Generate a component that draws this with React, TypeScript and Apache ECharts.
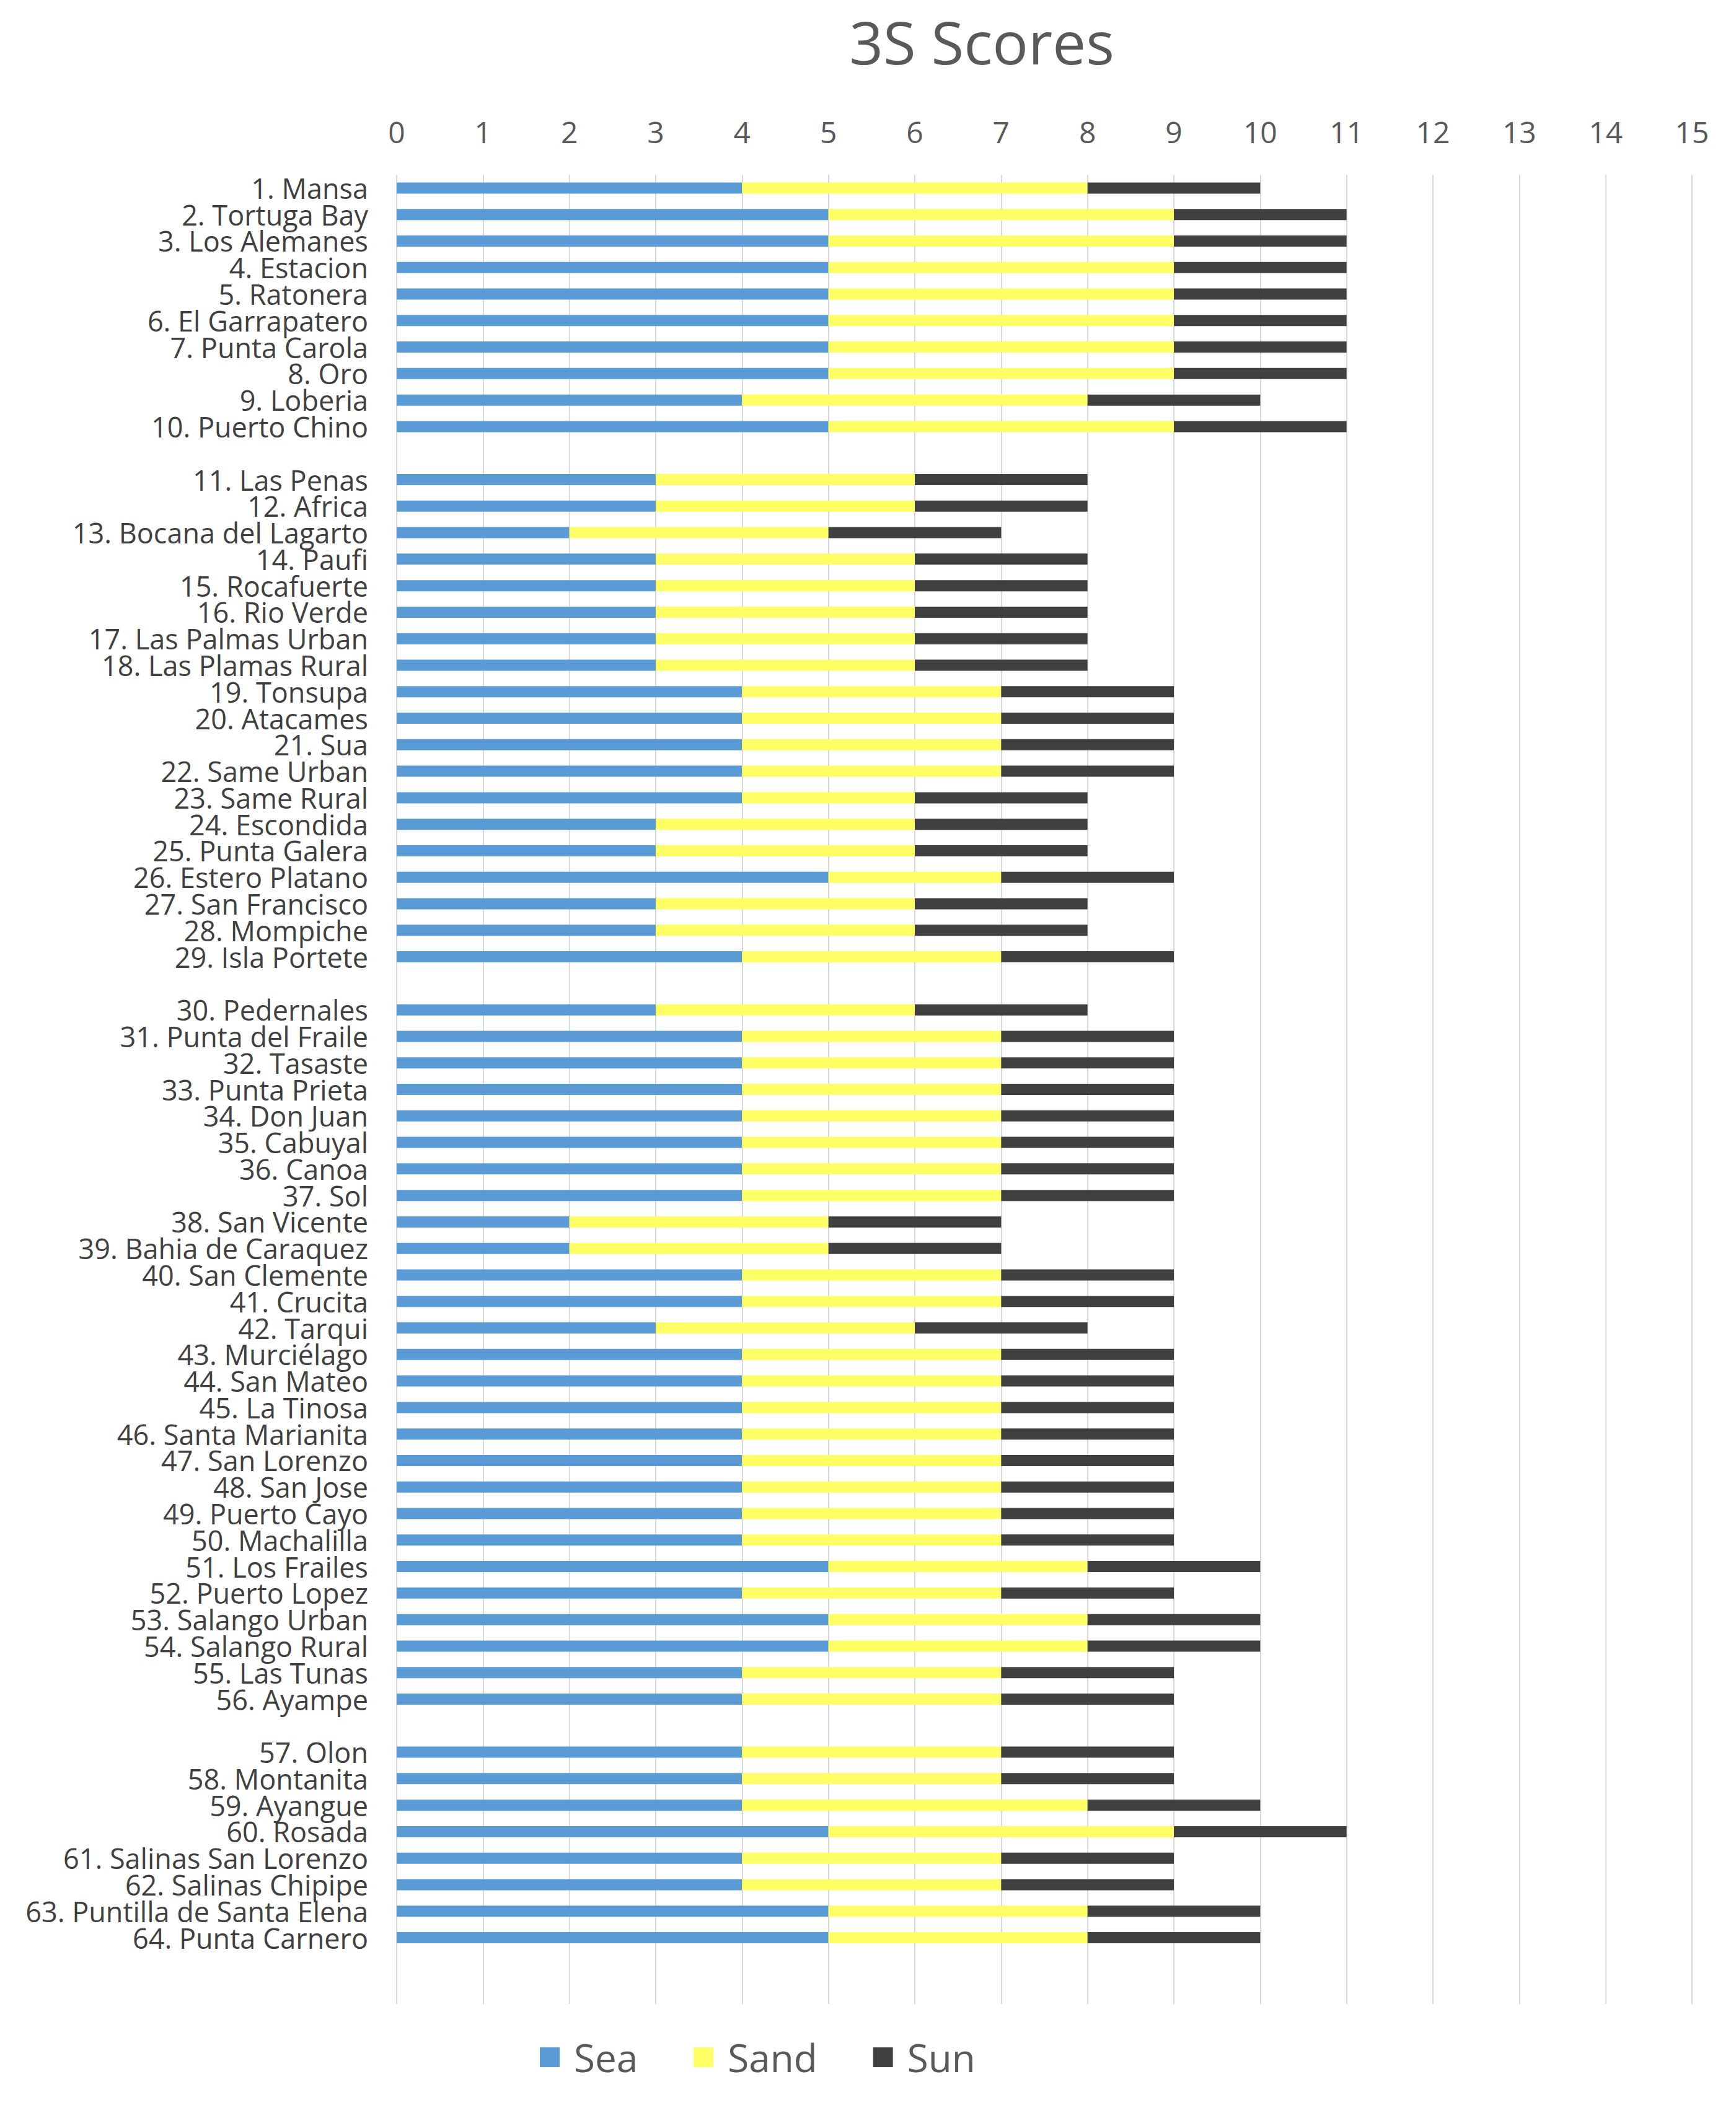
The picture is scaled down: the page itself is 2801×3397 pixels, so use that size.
import React, { useEffect, useRef } from "react";
import * as echarts from "echarts";

const beaches = [
  "1. Mansa", "2. Tortuga Bay", "3. Los Alemanes", "4. Estacion", "5. Ratonera",
  "6. El Garrapatero", "7. Punta Carola", "8. Oro", "9. Loberia", "10. Puerto Chino",
  "11. Las Penas", "12. Africa", "13. Bocana del Lagarto", "14. Paufi", "15. Rocafuerte",
  "16. Rio Verde", "17. Las Palmas Urban", "18. Las Plamas Rural", "19. Tonsupa", "20. Atacames",
  "21. Sua", "22. Same Urban", "23. Same Rural", "24. Escondida", "25. Punta Galera",
  "26. Estero Platano", "27. San Francisco", "28. Mompiche", "29. Isla Portete",
  "30. Pedernales", "31. Punta del Fraile", "32. Tasaste", "33. Punta Prieta", "34. Don Juan",
  "35. Cabuyal", "36. Canoa", "37. Sol", "38. San Vicente", "39. Bahia de Caraquez",
  "40. San Clemente", "41. Crucita", "42. Tarqui", "43. Murciélago", "44. San Mateo",
  "45. La Tinosa", "46. Santa Marianita", "47. San Lorenzo", "48. San Jose", "49. Puerto Cayo",
  "50. Machalilla", "51. Los Frailes", "52. Puerto Lopez", "53. Salango Urban", "54. Salango Rural",
  "55. Las Tunas", "56. Ayampe",
  "57. Olon", "58. Montanita", "59. Ayangue", "60. Rosada", "61. Salinas San Lorenzo",
  "62. Salinas Chipipe", "63. Puntilla de Santa Elena", "64. Punta Carnero",
];

const seaValues = [
  4, 5, 5, 5, 5, 5, 5, 5, 4, 5,
  3, 3, 2, 3, 3, 3, 3, 3, 4, 4, 4, 4, 4, 3, 3, 5, 3, 3, 4,
  3, 4, 4, 4, 4, 4, 4, 4, 2, 2, 4, 4, 3, 4, 4, 4, 4, 4, 4, 4, 4, 5, 4, 5, 5, 4, 4,
  4, 4, 4, 5, 4, 4, 5, 5,
];

const sandValues = [
  4, 4, 4, 4, 4, 4, 4, 4, 4, 4,
  3, 3, 3, 3, 3, 3, 3, 3, 3, 3, 3, 3, 2, 3, 3, 2, 3, 3, 3,
  3, 3, 3, 3, 3, 3, 3, 3, 3, 3, 3, 3, 3, 3, 3, 3, 3, 3, 3, 3, 3, 3, 3, 3, 3, 3, 3,
  3, 3, 4, 4, 3, 3, 3, 3,
];

const sunValues = [
  2, 2, 2, 2, 2, 2, 2, 2, 2, 2,
  2, 2, 2, 2, 2, 2, 2, 2, 2, 2, 2, 2, 2, 2, 2, 2, 2, 2, 2,
  2, 2, 2, 2, 2, 2, 2, 2, 2, 2, 2, 2, 2, 2, 2, 2, 2, 2, 2, 2, 2, 2, 2, 2, 2, 2, 2,
  2, 2, 2, 2, 2, 2, 2, 2,
];

// blank row inserted after these beach numbers (region groups)
const groupEnds = [10, 29, 56];
const trailingBlankRows = 2;

const seriesNames = ["Sea", "Sand", "Sun"];
const xTicks = [0, 15, 1]; // min, max, interval

const FONT = "'Open Sans', 'Noto Sans', 'DejaVu Sans', sans-serif";

function buildRows() {
  const cats: string[] = [];
  const sea: (number | null)[] = [];
  const sand: (number | null)[] = [];
  const sun: (number | null)[] = [];
  beaches.forEach((b, i) => {
    cats.push(b);
    sea.push(seaValues[i]);
    sand.push(sandValues[i]);
    sun.push(sunValues[i]);
    if (groupEnds.includes(i + 1)) {
      cats.push("");
      sea.push(null);
      sand.push(null);
      sun.push(null);
    }
  });
  for (let k = 0; k < trailingBlankRows; k++) {
    cats.push("");
    sea.push(null);
    sand.push(null);
    sun.push(null);
  }
  return { cats, sea, sand, sun };
}

export default function App() {
  const ref = useRef<HTMLDivElement>(null);

  useEffect(() => {
    if (!ref.current) return;
    const chart = echarts.init(ref.current, undefined, { renderer: "svg" });
    const { cats, sea, sand, sun } = buildRows();
    const colors = ["#5B9BD5", "#FFFF66", "#404040"];
    const dataSets = [sea, sand, sun];

    chart.setOption({
      animation: false,
      backgroundColor: "#FFFFFF",
      textStyle: { fontFamily: FONT },
      graphic: [
        {
          type: "text",
          x: 1584,
          y: 66,
          style: {
            text: "3S Scores",
            fontSize: 96,
            fontFamily: FONT,
            fill: "#595959",
            textAlign: "center",
            textVerticalAlign: "middle",
          },
        },
      ],
      legend: {
        data: seriesNames,
        left: 866,
        top: 3284,
        itemWidth: 32,
        itemHeight: 32,
        itemGap: 90,
        icon: "rect",
        textStyle: {
          fontSize: 62,
          color: "#595959",
          fontFamily: FONT,
          padding: [0, 0, 0, 18],
        },
      },
      grid: {
        left: 640,
        right: 71,
        top: 282,
        bottom: 163,
        containLabel: false,
      },
      xAxis: {
        type: "value",
        position: "top",
        min: xTicks[0],
        max: xTicks[1],
        interval: xTicks[2],
        axisLine: { show: false },
        axisTick: { show: false },
        axisLabel: {
          fontSize: 48,
          color: "#595959",
          margin: 46,
          fontFamily: FONT,
        },
        splitLine: { show: true, lineStyle: { color: "#D9D9D9", width: 2 } },
      },
      yAxis: {
        type: "category",
        inverse: true,
        data: cats,
        axisLine: { show: false },
        axisTick: { show: false },
        splitLine: { show: false },
        axisLabel: {
          interval: 0,
          fontSize: 45,
          lineHeight: 42,
          color: "#404040",
          margin: 46,
          fontFamily: FONT,
        },
      },
      series: seriesNames.map((name, i) => ({
        name,
        type: "bar",
        stack: "total",
        barWidth: 18,
        itemStyle: { color: colors[i] },
        data: dataSets[i],
      })),
    });

    return () => {
      chart.dispose();
    };
  }, []);

  return (
    <div
      ref={ref}
      style={{ position: "absolute", left: 0, top: 0, width: 2801, height: 3397 }}
    />
  );
}
